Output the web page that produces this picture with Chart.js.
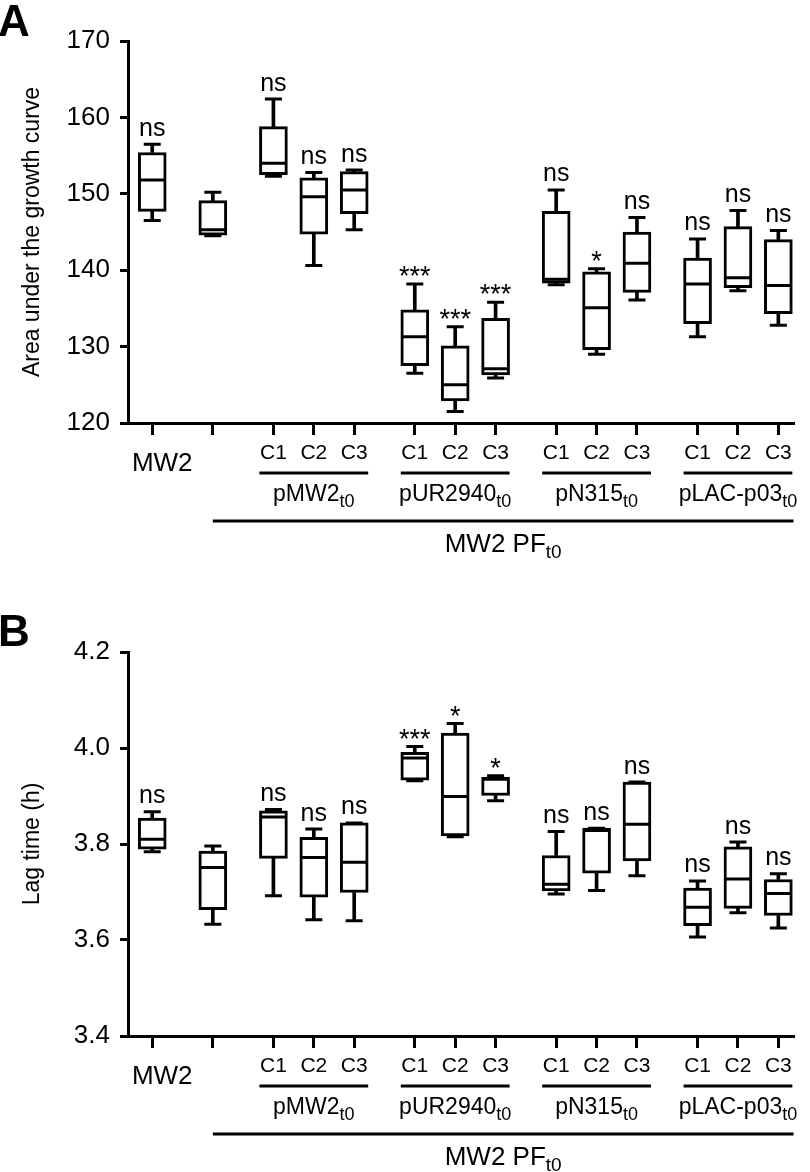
<!DOCTYPE html>
<html lang="en">
<head>
<meta charset="UTF-8">
<title>Area under the growth curve and lag time</title>
<style>
  body { margin: 0; background: #ffffff; width: 810px; height: 1172px; overflow: hidden; }
  .panel { position: absolute; left: 0; width: 810px; }
  #panelA { top: 0; height: 600px; }
  #panelB { top: 611px; height: 561px; }
</style>
</head>
<body>
<div class="panel" id="panelA"><canvas id="aucChart" width="810" height="600"></canvas></div>
<div class="panel" id="panelB"><canvas id="lagChart" width="810" height="561"></canvas></div>

<script src="https://cdn.jsdelivr.net/npm/chart.js"></script>
<script>
// categories (left to right)
const strains = ['MW2', 'MW2 PF', 'C1', 'C2', 'C3', 'C1', 'C2', 'C3', 'C1', 'C2', 'C3', 'C1', 'C2', 'C3'];
const groupIndex = [0, 1, 2, 2, 2, 3, 3, 3, 4, 4, 4, 5, 5, 5];
const plasmids = ['pMW2', 'pUR2940', 'pN315', 'pLAC-p03'];

// A: area under the growth curve
const aucMin = [146.5, 144.5, 152.3, 140.6, 145.3, 126.5, 121.5, 125.9, 138.1, 129.0, 136.1, 131.3, 137.3, 132.8];
const aucQ1  = [147.7, 144.6, 152.5, 144.7, 147.4, 127.5, 122.9, 126.3, 138.3, 129.6, 137.1, 133.0, 137.7, 134.3];
const aucMed = [151.8, 145.3, 154.0, 149.6, 150.5, 131.3, 125.0, 127.1, 138.8, 135.1, 140.9, 138.2, 139.0, 138.0];
const aucQ3  = [155.4, 149.1, 158.8, 152.1, 152.9, 134.8, 130.1, 133.7, 147.7, 139.8, 145.0, 141.6, 145.7, 144.0];
const aucMax = [156.5, 150.2, 162.4, 152.8, 153.1, 138.2, 132.6, 135.8, 150.5, 140.2, 146.9, 144.1, 147.8, 145.2];
const aucSig = ['ns', '', 'ns', 'ns', 'ns', '***', '***', '***', 'ns', '*', 'ns', 'ns', 'ns', 'ns'];
const aucTicks = [120, 130, 140, 150, 160, 170];

// B: lag time (h)
const lagMin = [3.784, 3.633, 3.692, 3.642, 3.640, 3.932, 3.815, 3.890, 3.696, 3.703, 3.734, 3.606, 3.657, 3.625];
const lagQ1  = [3.789, 3.663, 3.770, 3.689, 3.699, 3.933, 3.817, 3.901, 3.702, 3.739, 3.765, 3.630, 3.666, 3.651];
const lagMed = [3.810, 3.751, 3.856, 3.772, 3.762, 3.979, 3.899, 3.935, 3.716, 3.828, 3.841, 3.668, 3.727, 3.697];
const lagQ3  = [3.854, 3.785, 3.869, 3.814, 3.844, 3.991, 4.031, 3.939, 3.776, 3.833, 3.929, 3.708, 3.794, 3.726];
const lagMax = [3.867, 3.796, 3.872, 3.831, 3.844, 4.003, 4.051, 3.942, 3.826, 3.833, 3.929, 3.723, 3.804, 3.738];
const lagSig = ['ns', '', 'ns', 'ns', 'ns', '***', '*', '*', 'ns', 'ns', 'ns', 'ns', 'ns', 'ns'];
const lagTicks = [3.4, 3.6, 3.8, 4.0, 4.2];

const FAMILY = '"Liberation Sans", Arial, Helvetica, sans-serif';
const font = (size, weight) => (weight ? weight + ' ' : '') + size + 'px ' + FAMILY;
Chart.defaults.color = '#000';
Chart.defaults.font.family = FAMILY;

// half a slot of extra space between groups
const xPos = strains.map((s, i) => i + 0.5 * groupIndex[i]);
const tickText = strains.map((s, i) => groupIndex[i] >= 2 ? s : '');

function subText(ctx, main, sub, cx, base, size, subSize) {
    ctx.font = font(size);
    const w1 = ctx.measureText(main).width;
    ctx.font = font(subSize);
    const w2 = ctx.measureText(sub).width;
    const left = cx - (w1 + w2) / 2;
    ctx.textAlign = 'left';
    ctx.font = font(size);
    ctx.fillText(main, left, base);
    ctx.font = font(subSize);
    ctx.fillText(sub, left + w1, base + 6);
}

function decorPlugin(letter, sig, maxVals, letterBase) {
    return {
        id: 'decor' + letter,
        afterDraw(chart) {
            const ctx = chart.ctx;
            const xs = chart.scales.x, ys = chart.scales.y;
            const axisY = xs.top;
            ctx.save();
            ctx.fillStyle = '#000';
            ctx.strokeStyle = '#000';

            // significance marks above the whiskers
            ctx.textAlign = 'center';
            ctx.textBaseline = 'alphabetic';
            sig.forEach((s, i) => {
                if (!s) return;
                const px = xs.getPixelForValue(xPos[i]);
                const py = ys.getPixelForValue(maxVals[i]);
                ctx.font = font(s[0] === '*' ? 27 : 25);
                ctx.fillText(s, px, s[0] === '*' ? py + 1 : py - 8.5);
            });

            // MW2 label
            ctx.font = font(26);
            ctx.fillText(strains[0], xs.getPixelForValue(xPos[0]) + 10, axisY + 48);

            // plasmid brackets
            ctx.lineWidth = 3;
            plasmids.forEach((name, g) => {
                const idx = groupIndex.map((v, i) => v === g + 2 ? i : -1).filter(i => i >= 0);
                const x0 = xs.getPixelForValue(xPos[idx[0]]) - 14;
                const x1 = xs.getPixelForValue(xPos[idx[idx.length - 1]]) + 14;
                ctx.beginPath();
                ctx.moveTo(x0, axisY + 50);
                ctx.lineTo(x1, axisY + 50);
                ctx.stroke();
                subText(ctx, name, 't0', (x0 + x1) / 2, axisY + 78, 23, 18);
            });

            // MW2 PF bracket
            const pf0 = xs.getPixelForValue(xPos[1]);
            const pf1 = xs.right - 1;
            ctx.beginPath();
            ctx.moveTo(pf0, axisY + 98);
            ctx.lineTo(pf1, axisY + 98);
            ctx.stroke();
            subText(ctx, 'MW2 PF', 't0', (pf0 + pf1) / 2, axisY + 129, 26, 19);

            // panel letter
            ctx.textAlign = 'left';
            ctx.font = font(44, 'bold');
            ctx.fillText(letter, -2, letterBase);
            ctx.restore();
        }
    };
}

function buildPanel(canvasId, p) {
    const canvas = document.getElementById(canvasId);
    const H = canvas.height;
    const pts = arr => xPos.map((x, i) => ({ x: x, y: arr[i] }));
    const spans = (lo, hi) => xPos.map((x, i) => ({ x: x, y: [lo[i], hi[i]] }));
    const capSet = arr => ({
        type: 'scatter', data: pts(arr), pointStyle: 'line', pointRadius: 8.5,
        pointBorderWidth: 3, pointBorderColor: '#000', order: 3
    });
    const whiskerSet = (lo, hi) => ({
        data: spans(lo, hi), backgroundColor: '#000', borderWidth: 0,
        barThickness: 3, maxBarThickness: 3, grouped: false, order: 2
    });

    return new Chart(canvas, {
        type: 'bar',
        data: {
            datasets: [
                { type: 'scatter', data: pts(p.med), pointStyle: 'line', pointRadius: 12.5,
                  pointBorderWidth: 3, pointBorderColor: '#000', order: 0 },
                { data: spans(p.q1, p.q3), backgroundColor: '#fff', borderColor: '#000', borderWidth: 3,
                  borderSkipped: false, barThickness: 28, maxBarThickness: 28, grouped: false, order: 1 },
                whiskerSet(p.q3, p.max),
                whiskerSet(p.min, p.q1),
                capSet(p.max),
                capSet(p.min)
            ]
        },
        options: {
            responsive: false,
            animation: false,
            events: [],
            layout: { padding: { top: 41, right: 3, left: 0, bottom: 0 } },
            plugins: { legend: { display: false }, tooltip: { enabled: false } },
            scales: {
                x: {
                    type: 'linear',
                    min: -0.6,
                    max: 15.9,
                    offset: false,
                    afterBuildTicks: s => { s.ticks = xPos.map(v => ({ value: v })); },
                    afterFit: s => { s.height = H - p.axisBottom; },
                    border: { display: true, color: '#000', width: 3 },
                    grid: { offset: false, drawOnChartArea: false, drawTicks: true, tickLength: 12,
                            tickWidth: 3, color: '#000' },
                    ticks: {
                        autoSkip: false, maxRotation: 0, minRotation: 0, padding: 6,
                        font: { size: 21 }, color: '#000',
                        callback: (v, i) => tickText[i]
                    }
                },
                y: {
                    type: 'linear',
                    min: p.ticks[0],
                    max: p.ticks[p.ticks.length - 1],
                    afterBuildTicks: s => { s.ticks = p.ticks.map(v => ({ value: v })); },
                    afterFit: s => { s.width = 128; },
                    border: { display: true, color: '#000', width: 3 },
                    grid: { drawOnChartArea: false, drawTicks: true, tickLength: 8, tickWidth: 3, color: '#000' },
                    ticks: {
                        padding: 10, font: { size: 26 }, color: '#000',
                        callback: v => p.decimals ? v.toFixed(p.decimals) : v
                    },
                    title: {
                        display: true, text: p.title, color: '#000',
                        font: { size: 23 }, padding: { top: 19, bottom: 0 }
                    }
                }
            }
        },
        plugins: [decorPlugin(p.letter, p.sig, p.max, p.letterBase)]
    });
}

buildPanel('aucChart', {
    min: aucMin, q1: aucQ1, med: aucMed, q3: aucQ3, max: aucMax, sig: aucSig,
    ticks: aucTicks, decimals: 0, title: 'Area under the growth curve',
    letter: 'A', letterBase: 36, axisBottom: 423
});

buildPanel('lagChart', {
    min: lagMin, q1: lagQ1, med: lagMed, q3: lagQ3, max: lagMax, sig: lagSig,
    ticks: lagTicks, decimals: 1, title: 'Lag time (h)',
    letter: 'B', letterBase: 35, axisBottom: 425
});
</script>
</body>
</html>
